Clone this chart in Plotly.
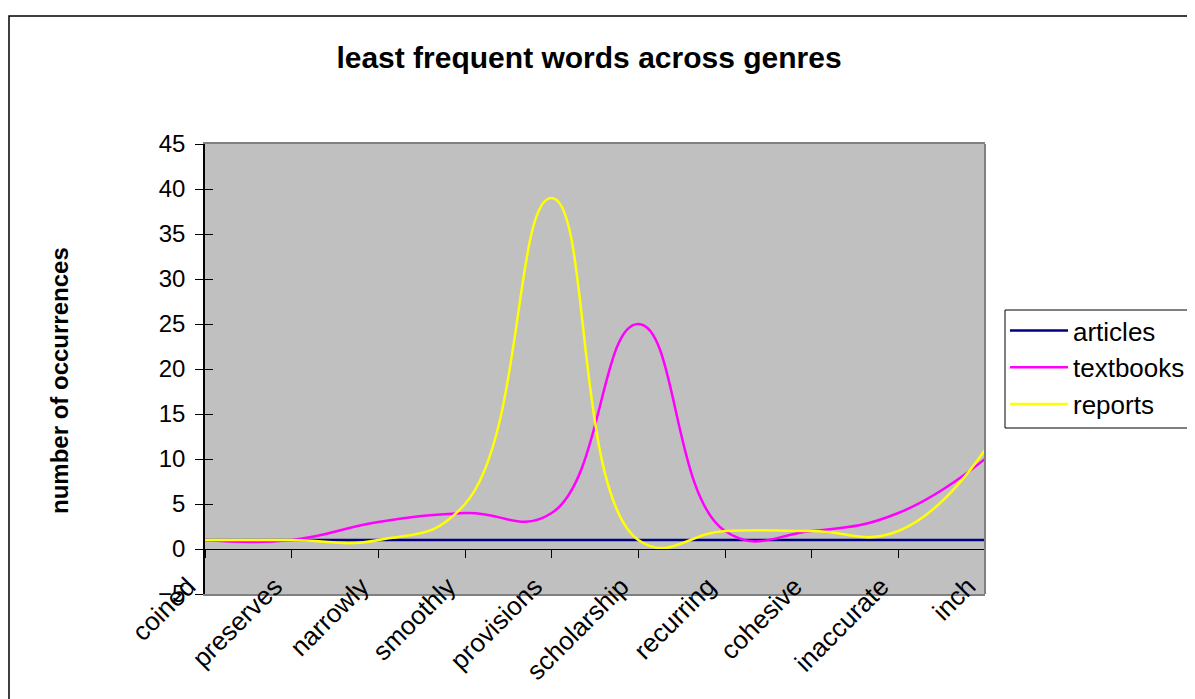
import plotly.graph_objects as go

categories = ["coined", "preserves", "narrowly", "smoothly", "provisions",
              "scholarship", "recurring", "cohesive", "inaccurate", "inch"]
articles = [1, 1, 1, 1, 1, 1, 1, 1, 1, 1]
textbooks = [1, 1, 3, 4, 4, 25, 2, 2, 4, 10]
reports = [1, 1, 1, 5, 39, 1, 2, 2, 2, 11]
y_ticks = [-5, 0, 5, 10, 15, 20, 25, 30, 35, 40, 45]

OFF = 8  # page body margin
W, H = 1195 - OFF, 699 - OFF
L, R, T, B = 205 - OFF, 985 - OFF, 144 - OFF, 594 - OFF
font = "Liberation Sans, Arial, sans-serif"

def px_x(p):  # screen px -> paper
    return (p - OFF - L) / (R - L)

def px_y(p):
    return (B - (p - OFF)) / (B - T)

fig = go.Figure()
for name, vals, col in [("articles", articles, "#000080"),
                        ("textbooks", textbooks, "#FF00FF"),
                        ("reports", reports, "#FFFF00")]:
    fig.add_trace(go.Scatter(x=categories, y=vals, name=name, mode="lines",
                             line=dict(color=col, width=2.5, shape="spline", smoothing=1.3)))

# invisible trace to activate overlay axes
fig.add_trace(go.Scatter(x=categories, y=articles, xaxis="x2", yaxis="y2",
                         mode="lines", line=dict(width=0), showlegend=False, hoverinfo="skip"))

zero_pos = (0 - y_ticks[0]) / (y_ticks[-1] - y_ticks[0])

fig.update_layout(
    width=W, height=H,
    margin=dict(l=L, r=W - R, t=T, b=H - B, autoexpand=False),
    paper_bgcolor="white", plot_bgcolor="#C0C0C0",
    font=dict(family=font, color="black", size=24),
    title=dict(text="<b>least frequent words across genres</b>",
               x=(589 - OFF) / W, xanchor="center", xref="container",
               y=1 - (57 - OFF) / H, yanchor="middle", yref="container",
               font=dict(size=30, family=font, color="black")),
    xaxis=dict(type="category", categoryorder="array", categoryarray=categories,
               range=[0, len(categories) - 1], showgrid=False, zeroline=False,
               showline=True, linecolor="#808080", linewidth=2, mirror=True,
               ticks="", tickangle=-45, tickfont=dict(size=26, family=font),
               ticklabelstandoff=-35, ticklabelshift=-17),
    xaxis2=dict(type="category", categoryorder="array", categoryarray=categories,
                range=[0, len(categories) - 1], overlaying="x", anchor="free",
                position=zero_pos, showgrid=False, zeroline=False,
                showline=True, linecolor="black", linewidth=1,
                ticks="outside", ticklen=8, tickcolor="black", showticklabels=False),
    yaxis=dict(range=[y_ticks[0], y_ticks[-1]], tickvals=y_ticks, showgrid=False,
               zeroline=False, showline=True, linecolor="black", linewidth=1.5,
               ticks="outside", ticklen=8, tickcolor="black",
               tickfont=dict(size=24, family=font), ticklabelstandoff=5),
    yaxis2=dict(range=[y_ticks[0], y_ticks[-1]], tickvals=y_ticks, overlaying="y",
                anchor="x", side="left", showgrid=False, zeroline=False, showline=False,
                ticks="inside", ticklen=8, tickcolor="black", showticklabels=False),
    legend=dict(x=px_x(1005), y=px_y(307), xanchor="left", yanchor="top",
                bgcolor="rgba(0,0,0,0)", borderwidth=0, itemwidth=58,
                font=dict(size=26, family=font), tracegroupgap=0),
    showlegend=True,
)

# outer chart border
fig.add_shape(type="rect", xref="paper", yref="paper",
              x0=px_x(9), x1=px_x(1300), y0=px_y(16), y1=px_y(800),
              line=dict(color="black", width=1.5), fillcolor="rgba(0,0,0,0)", layer="below")
# plot area right border
fig.add_shape(type="line", xref="paper", yref="paper", x0=1, x1=1, y0=0, y1=1,
              line=dict(color="#808080", width=2))
# legend box (extends past the right edge as in the original)
fig.add_shape(type="rect", xref="paper", yref="paper",
              x0=px_x(1005), x1=px_x(1300), y0=px_y(310), y1=px_y(428),
              line=dict(color="black", width=1), fillcolor="white", layer="above")

fig.add_annotation(text="<b>number of occurrences</b>", xref="paper", yref="paper",
                   x=px_x(59), y=px_y(381), xanchor="center", yanchor="middle",
                   textangle=-90, showarrow=False,
                   font=dict(size=24, family=font, color="black"))

fig.write_html("out.html")
